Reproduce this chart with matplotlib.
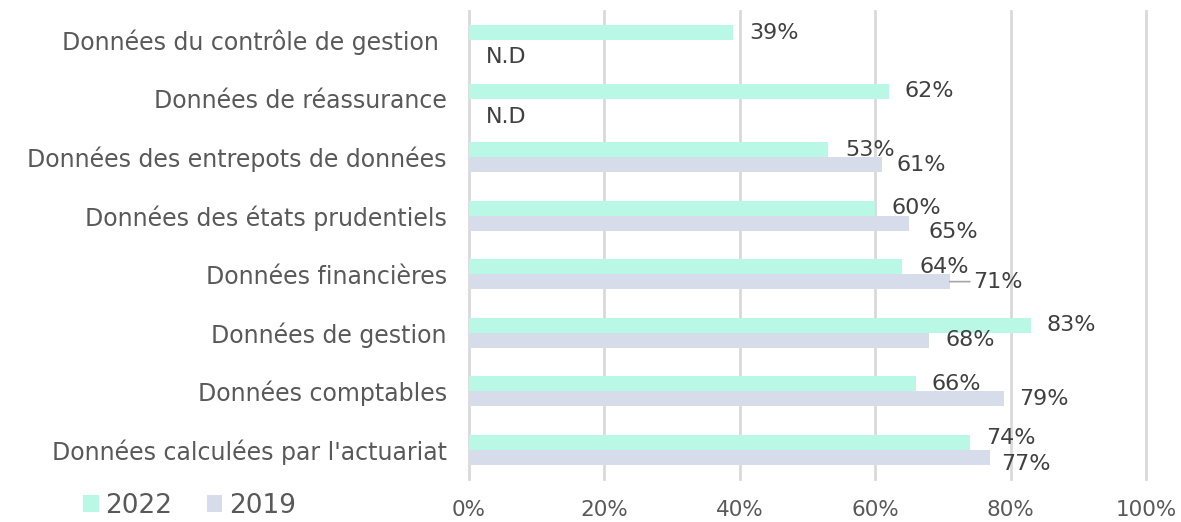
import matplotlib.pyplot as plt
import numpy as np

plt.rcParams['font.family'] = ['DejaVu Sans']

categories = ["Données du contrôle de gestion ", "Données de réassurance",
              "Données des entrepots de données", "Données des états prudentiels",
              "Données financières", "Données de gestion", "Données comptables",
              "Données calculées par l'actuariat"]
values_2022 = [39, 62, 53, 60, 64, 83, 66, 74]
values_2019 = [np.nan, np.nan, 61, 65, 71, 68, 79, 77]  # nan = N.D
ticks = [0, 20, 40, 60, 80, 100]

# label offsets in pixels (dx, dy), tweaked to follow the original layout
off_2022 = [(16, 0), (16, 0), (17, 0), (16, 0), (17, 0), (16, 0), (16, 0), (16, 4)]
off_2019 = [(17, -9), (17, -11), (15, 0), (19, -9), (23, 0), (16, 0), (15, 0), (11, -7)]

c22 = "#b9f8e4"
c19 = "#d6dce9"

fig = plt.figure(figsize=(11.81, 5.22), dpi=100)
ax = fig.add_axes([0.3971, 0.0824, 0.5733, 0.897])

y = np.arange(len(categories))
h = 0.256
ax.barh(y - h / 2, values_2022, height=h, color=c22, label="2022", zorder=2)
ax.barh(y + h / 2, np.nan_to_num(values_2019), height=h, color=c19, label="2019", zorder=2)

fs = 16
for i in range(len(categories)):
    v = values_2022[i]
    ax.annotate(f"{v}%", xy=(v, y[i] - h / 2), xytext=off_2022[i], textcoords="offset pixels",
                ha="left", va="center", fontsize=fs, color="#404040")
    v = values_2019[i]
    if np.isnan(v):
        ax.annotate("N.D", xy=(0, y[i] + h / 2), xytext=off_2019[i], textcoords="offset pixels",
                    ha="left", va="center", fontsize=fs, color="#404040")
    elif v == 71:
        ax.annotate(f"{v}%", xy=(v, y[i] + h / 2), xytext=off_2019[i], textcoords="offset pixels",
                    ha="left", va="center", fontsize=fs, color="#404040",
                    arrowprops=dict(arrowstyle="-", color="#a6a6a6", lw=1.2, shrinkA=0, shrinkB=0))
    else:
        ax.annotate(f"{v}%", xy=(v, y[i] + h / 2), xytext=off_2019[i], textcoords="offset pixels",
                    ha="left", va="center", fontsize=fs, color="#404040")

ax.set_xlim(0, 100)
ax.set_ylim(len(categories) - 0.5, -0.5)
ax.set_yticks(y)
ax.set_yticklabels(categories, fontsize=17, color="#595959")
ax.set_xticks(ticks)
ax.set_xticklabels([f"{t}%" for t in ticks], fontsize=15.5, color="#595959")
ax.tick_params(axis="y", length=0, pad=16)
ax.tick_params(axis="x", length=0, pad=15)
for s in ax.spines.values():
    s.set_visible(False)
ax.grid(axis="x", color="#d9d9d9", lw=2, zorder=0)
for gl in ax.get_xgridlines():
    gl.set_clip_on(False)
ax.set_axisbelow(True)

fig.legend(loc="lower left", bbox_to_anchor=(0.05, -0.04), frameon=False, ncol=2,
           fontsize=19, handlelength=0.6, handleheight=0.6, handletextpad=0.25,
           columnspacing=1.3, labelcolor="#595959")

plt.savefig("out.png", dpi=100)
